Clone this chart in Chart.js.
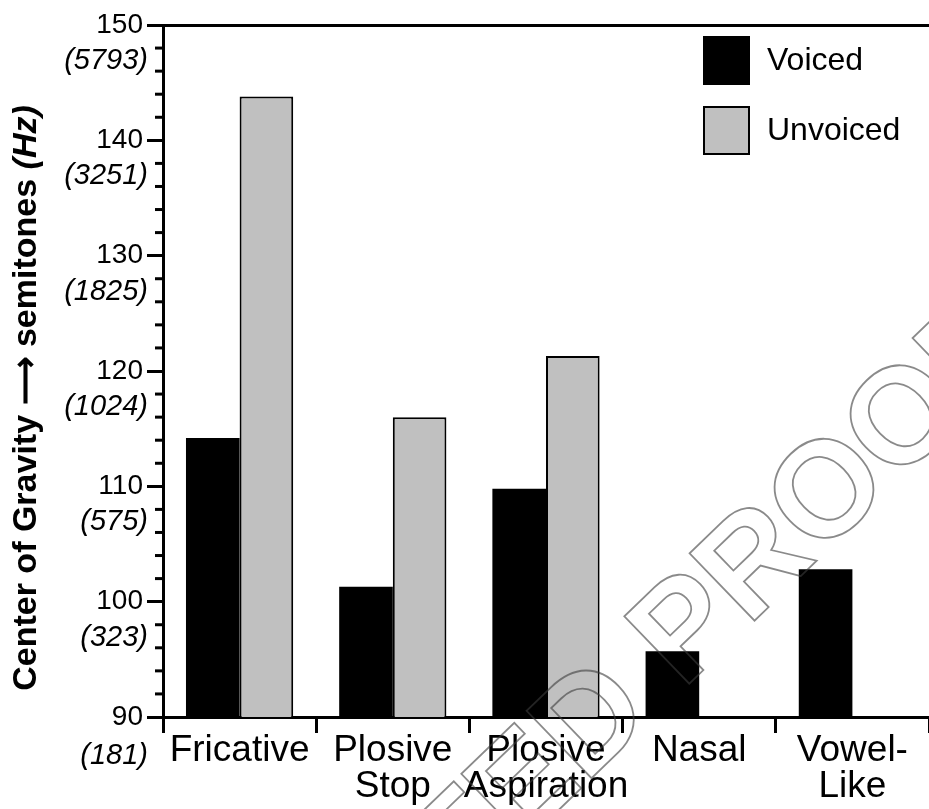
<!DOCTYPE html>
<html>
<head>
  <title>Center of Gravity</title>
  <script src="https://cdn.jsdelivr.net/npm/chart.js"></script>
  <style>
    body { margin: 0; background: #fff; }
  </style>
</head>
<body>
<canvas id="myChart" width="929" height="809"></canvas>

<script>
  // data
  const categories = ['Fricative', ['Plosive', 'Stop'], ['Plosive', 'Aspiration'], 'Nasal', ['Vowel-', 'Like']];
  const voiced   = [114.2, 101.3, 109.8, 95.7, 102.8];
  const unvoiced = [143.8, 116.0, 121.3, null, null];
  const semitoneTicks = [90, 100, 110, 120, 130, 140, 150];
  const hzLabels = ['(181)', '(323)', '(575)', '(1024)', '(1825)', '(3251)', '(5793)'];

  const FONT = 'Arial, "Liberation Sans", sans-serif';

  // minor ticks, Hz labels, axis title, legend and watermark
  const extras = {
    id: 'extras',
    afterDraw(chart) {
      const ctx = chart.ctx;
      const y = chart.scales.y;
      const area = chart.chartArea;
      ctx.save();

      // minor ticks (short)
      ctx.strokeStyle = '#000';
      ctx.lineWidth = 3;
      y.ticks.forEach(t => {
        if (t.value % 10 !== 0) {
          const py = y.getPixelForValue(t.value);
          ctx.beginPath();
          ctx.moveTo(area.left - 8, py);
          ctx.lineTo(area.left, py);
          ctx.stroke();
        }
      });

      // Hz labels under each semitone label
      ctx.fillStyle = '#000';
      ctx.font = 'italic 29px ' + FONT;
      ctx.textAlign = 'right';
      ctx.textBaseline = 'middle';
      semitoneTicks.forEach((v, i) => {
        const extra = v === 90 ? 3 : 0;
        ctx.fillText(hzLabels[i], area.left - 15, y.getPixelForValue(v) + 36 + extra);
      });

      // y axis title, bold with italic (Hz)
      const part1 = 'Center of Gravity \u27F6 semitones ';
      const part2 = '(Hz)';
      ctx.translate(27, 398);
      ctx.rotate(-Math.PI / 2);
      ctx.font = 'bold 34px ' + FONT;
      const w1 = ctx.measureText(part1).width;
      ctx.font = 'bold italic 34px ' + FONT;
      const w2 = ctx.measureText(part2).width;
      let x0 = -(w1 + w2) / 2;
      ctx.textAlign = 'left';
      ctx.font = 'bold 34px ' + FONT;
      ctx.fillText(part1, x0, 0);
      ctx.font = 'bold italic 34px ' + FONT;
      ctx.fillText(part2, x0 + w1, 0);
      ctx.restore();

      // legend
      ctx.save();
      ctx.font = '32px ' + FONT;
      ctx.textBaseline = 'middle';
      const lx = area.right - 225;
      chart.data.datasets.forEach((ds, i) => {
        const ty = area.top + 12 + i * 70;
        ctx.fillStyle = ds.backgroundColor;
        ctx.strokeStyle = '#000';
        ctx.lineWidth = 2;
        ctx.fillRect(lx, ty, 45, 47);
        ctx.strokeRect(lx, ty, 45, 47);
        ctx.fillStyle = '#000';
        ctx.fillText(ds.label, lx + 63, ty + 24);
      });
      ctx.restore();

      // watermark
      ctx.save();
      const wm = 'ACCEPTED PROOF';
      const size = 136;
      ctx.font = 'bold ' + size + 'px ' + FONT;
      const off = ctx.measureText('ACCEPTED PR').width + ctx.measureText('O').width / 2;
      ctx.translate(823, 487);
      ctx.rotate(-44 * Math.PI / 180);
      ctx.textBaseline = 'alphabetic';
      ctx.strokeStyle = 'rgba(60,60,60,0.6)';
      ctx.lineWidth = 1.8;
      ctx.strokeText(wm, -off, size * 0.358);
      ctx.restore();
    }
  };

  new Chart(document.getElementById('myChart'), {
    type: 'bar',
    data: {
      labels: categories,
      datasets: [
        {
          label: 'Voiced',
          data: voiced,
          backgroundColor: '#000000',
          borderColor: '#000000',
          borderWidth: 0
        },
        {
          label: 'Unvoiced',
          data: unvoiced,
          backgroundColor: '#c0c0c0',
          borderColor: '#000000',
          borderWidth: 2
        }
      ]
    },
    options: {
      responsive: false,
      animation: false,
      layout: { padding: { top: 25, right: 0, left: 0, bottom: 0 } },
      datasets: { bar: { categoryPercentage: 0.7, barPercentage: 1.0 } },
      plugins: { legend: { display: false }, tooltip: { enabled: false } },
      scales: {
        x: {
          afterFit: s => { s.height = 92; },
          border: { color: '#000', width: 3 },
          grid: { drawOnChartArea: false, offset: true, color: '#000', lineWidth: 3, tickLength: 16 },
          ticks: {
            color: '#000',
            font: { family: FONT, size: 37, lineHeight: 0.97 },
            padding: 0,
            maxRotation: 0,
            autoSkip: false
          }
        },
        y: {
          min: 90,
          max: 150,
          afterFit: s => { s.width = 163; },
          border: { color: '#000', width: 3 },
          grid: {
            drawOnChartArea: true,
            color: c => (c.tick && c.tick.value === 150) ? '#000' : 'rgba(0,0,0,0)',
            tickColor: c => (c.tick && c.tick.value % 10 === 0) ? '#000' : 'rgba(0,0,0,0)',
            lineWidth: 3,
            tickWidth: 3,
            tickLength: 16
          },
          ticks: {
            stepSize: 2,
            autoSkip: false,
            color: '#000',
            padding: 4,
            font: { family: FONT, size: 28 },
            callback: v => (v % 10 === 0 ? String(v) : '')
          }
        }
      }
    },
    plugins: [extras]
  });
</script>
</body>
</html>
